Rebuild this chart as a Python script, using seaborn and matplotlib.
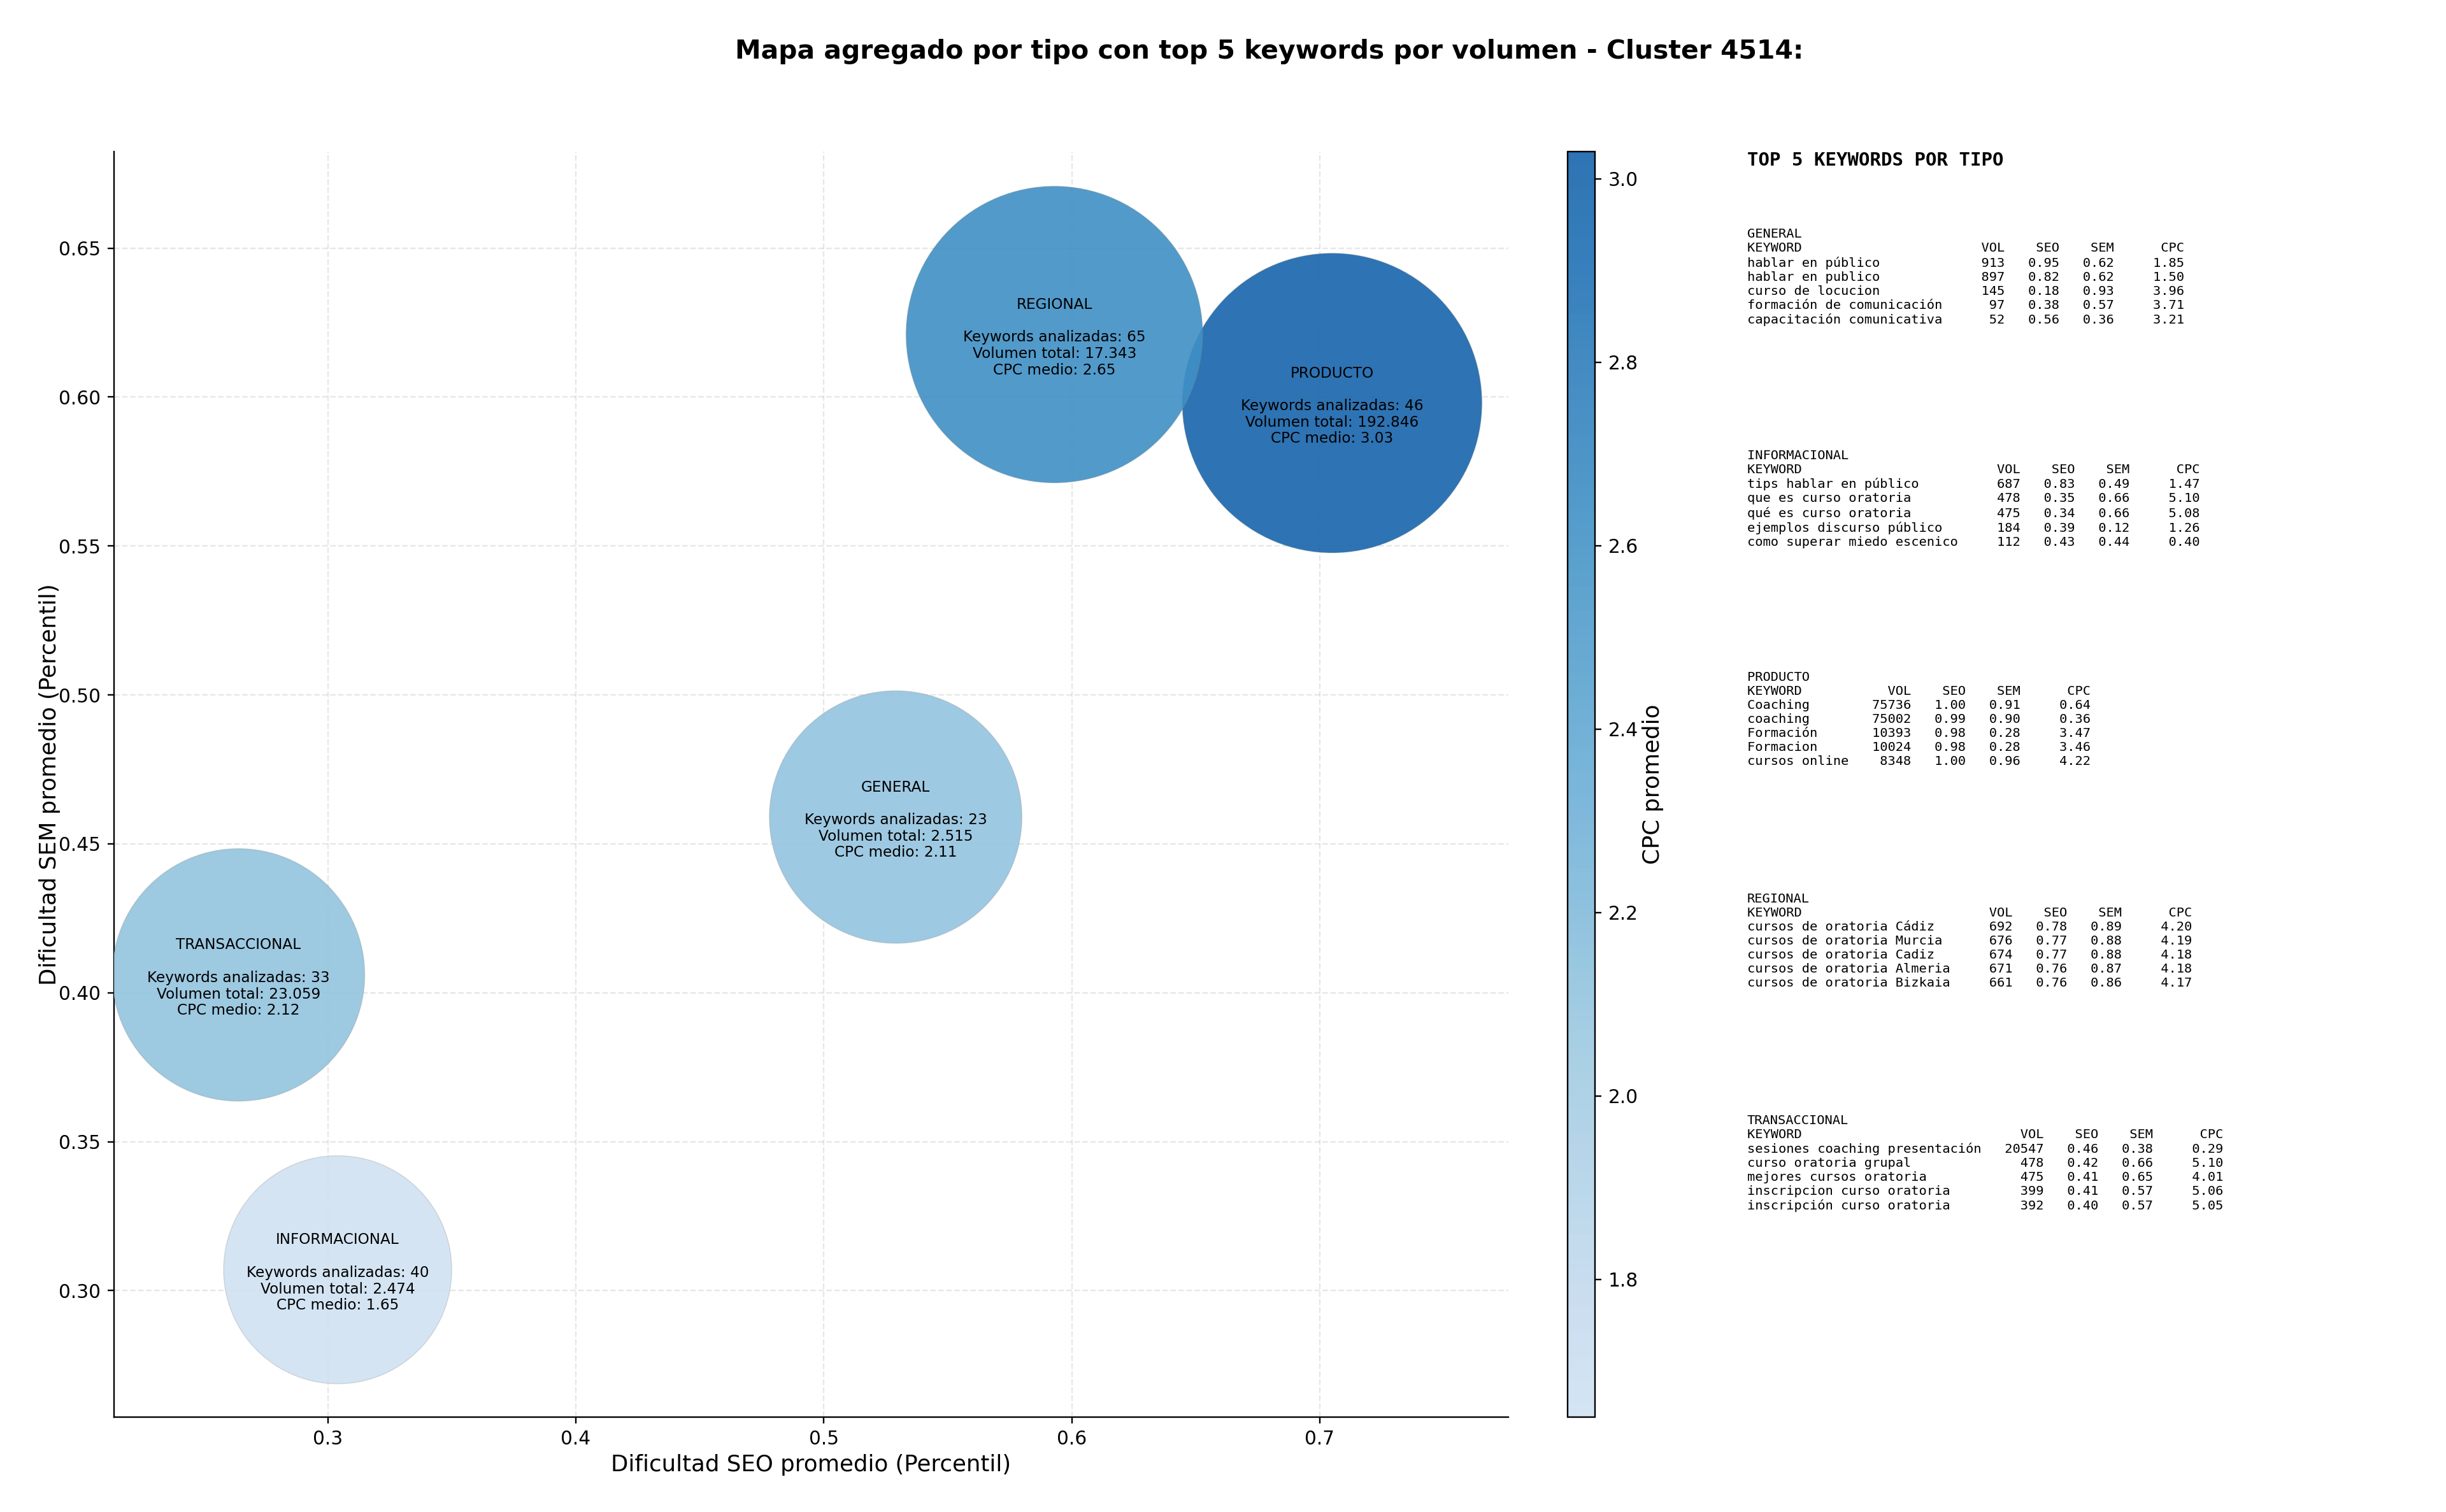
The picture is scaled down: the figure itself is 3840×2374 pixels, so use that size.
import numpy as np
import pandas as pd
import seaborn as sns
from matplotlib import pyplot as plt
from matplotlib.colors import LinearSegmentedColormap, Normalize
from matplotlib.colorbar import Colorbar

# Datos agregados por tipo
tipos = ["GENERAL", "INFORMACIONAL", "PRODUCTO", "REGIONAL", "TRANSACCIONAL"]
seo_medio = [0.529, 0.304, 0.705, 0.593, 0.264]
sem_medio = [0.459, 0.307, 0.598, 0.621, 0.406]
cpc_medio = [2.11, 1.65, 3.03, 2.65, 2.12]
n_keywords = [23, 40, 46, 65, 33]
volumen_total = [2515, 2474, 192846, 17343, 23059]

# Top 5 keywords por tipo: (keyword, vol, seo, sem, cpc)
top_general = [
    ("hablar en público", 913, 0.95, 0.62, 1.85),
    ("hablar en publico", 897, 0.82, 0.62, 1.50),
    ("curso de locucion", 145, 0.18, 0.93, 3.96),
    ("formación de comunicación", 97, 0.38, 0.57, 3.71),
    ("capacitación comunicativa", 52, 0.56, 0.36, 3.21),
]
top_informacional = [
    ("tips hablar en público", 687, 0.83, 0.49, 1.47),
    ("que es curso oratoria", 478, 0.35, 0.66, 5.10),
    ("qué es curso oratoria", 475, 0.34, 0.66, 5.08),
    ("ejemplos discurso público", 184, 0.39, 0.12, 1.26),
    ("como superar miedo escenico", 112, 0.43, 0.44, 0.40),
]
top_producto = [
    ("Coaching", 75736, 1.00, 0.91, 0.64),
    ("coaching", 75002, 0.99, 0.90, 0.36),
    ("Formación", 10393, 0.98, 0.28, 3.47),
    ("Formacion", 10024, 0.98, 0.28, 3.46),
    ("cursos online", 8348, 1.00, 0.96, 4.22),
]
top_regional = [
    ("cursos de oratoria Cádiz", 692, 0.78, 0.89, 4.20),
    ("cursos de oratoria Murcia", 676, 0.77, 0.88, 4.19),
    ("cursos de oratoria Cadiz", 674, 0.77, 0.88, 4.18),
    ("cursos de oratoria Almeria", 671, 0.76, 0.87, 4.18),
    ("cursos de oratoria Bizkaia", 661, 0.76, 0.86, 4.17),
]
top_transaccional = [
    ("sesiones coaching presentación", 20547, 0.46, 0.38, 0.29),
    ("curso oratoria grupal", 478, 0.42, 0.66, 5.10),
    ("mejores cursos oratoria", 475, 0.41, 0.65, 4.01),
    ("inscripcion curso oratoria", 399, 0.41, 0.57, 5.06),
    ("inscripción curso oratoria", 392, 0.40, 0.57, 5.05),
]
tops = [top_general, top_informacional, top_producto, top_regional, top_transaccional]

# Área de cada burbuja (puntos^2)
area_burbuja = [17900, 14600, 25200, 24700, 17900]

df = pd.DataFrame({"tipo": tipos, "seo": seo_medio, "sem": sem_medio,
                   "cpc": cpc_medio, "n": n_keywords, "vol": volumen_total})

# Colormap Blues recortado, con transparencia
base = plt.get_cmap("Blues")
colores = base(np.linspace(0.2, 0.8, 256))
colores[:, 3] = 0.9
cmap = LinearSegmentedColormap.from_list("blues_rec", colores)
norm = Normalize(vmin=min(cpc_medio), vmax=max(cpc_medio))

fig = plt.figure(figsize=(18, 2374 / (3840 / 18)), dpi=3840 / 18)
ax = fig.add_axes([0.0466, 0.0629, 0.5701, 0.837])
cax = fig.add_axes([0.641, 0.0629, 0.0110, 0.837])

sns.scatterplot(data=df, x="seo", y="sem", hue="cpc", palette=cmap, hue_norm=norm,
                size="tipo", sizes=dict(zip(tipos, area_burbuja)),
                edgecolor=(0.5, 0.5, 0.5, 0.25), linewidth=0.5, legend=False,
                ax=ax, zorder=3)

# Etiquetas dentro de las burbujas
for _, r in df.iterrows():
    vol = f"{r['vol']:,}".replace(",", ".")
    txt = (f"{r['tipo']}\n\nKeywords analizadas: {r['n']}\n"
           f"Volumen total: {vol}\nCPC medio: {r['cpc']:.2f}")
    ax.text(r["seo"], r["sem"] - 0.001, txt, ha="center", va="center",
            multialignment="center", fontsize=7.8, linespacing=1.15, zorder=4)

ax.set_xlim(0.2138, 0.7761)
ax.set_ylim(0.2576, 0.6825)
ax.grid(True, linestyle="--", alpha=0.3, zorder=0)
ax.spines["top"].set_visible(False)
ax.spines["right"].set_visible(False)
ax.set_xlabel("Dificultad SEO promedio (Percentil)", fontsize=12, labelpad=3)
ax.set_ylabel("Dificultad SEM promedio (Percentil)", fontsize=12, labelpad=-1)

cb = Colorbar(cax, cmap=cmap, norm=norm)
cb.set_label("CPC promedio", fontsize=12, labelpad=2)

fig.text(0.519, 0.966, "Mapa agregado por tipo con top 5 keywords por volumen - Cluster 4514:",
         ha="center", va="center", fontsize=13.8, weight="bold")

# Panel de texto con el top 5 por tipo
fig.text(0.7143, 0.8999, "TOP 5 KEYWORDS POR TIPO", family="monospace",
         weight="bold", fontsize=9.8, va="top")
y0 = 0.849
for tipo, filas in zip(tipos, tops):
    w = max(len(f[0]) for f in filas)
    lineas = [tipo, f"{'KEYWORD':<{w}}{'VOL':>8}{'SEO':>7}{'SEM':>7}{'CPC':>9}"]
    for kw, v, s, m, c in filas:
        lineas.append(f"{kw:<{w}}{v:>8}{s:>7.2f}{m:>7.2f}{c:>9.2f}")
    fig.text(0.7143, y0, "\n".join(lineas), family="monospace", fontsize=6.9, va="top")
    y0 -= 0.1465

fig.savefig("out.png", dpi=3840 / 18)
